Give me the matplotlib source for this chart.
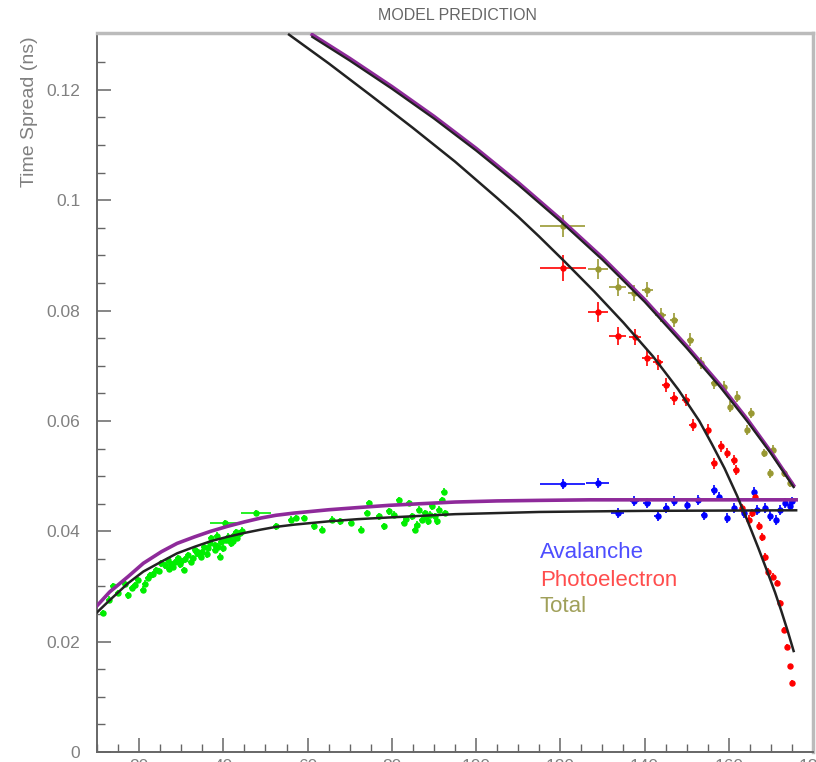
import numpy as np
import matplotlib.pyplot as plt

plt.rcParams['font.family'] = ['Liberation Sans', 'DejaVu Sans']

# ---- model / fit curves ----
photo_fit_x = [55.6, 65, 75, 85, 95, 105, 110, 115, 121, 128, 135, 142, 148, 153, 156, 159, 162, 164.5, 167,
               169, 171, 172.5, 174, 175.4]
photo_fit_y = [0.1300, 0.1248, 0.1190, 0.1131, 0.1070, 0.1004, 0.0970, 0.0934, 0.0889, 0.0835, 0.0778, 0.0717,
               0.0657, 0.0600, 0.0558, 0.0514, 0.0464, 0.0418, 0.0370, 0.0330, 0.0289, 0.0255, 0.0219, 0.0183]

total_x = [61.1, 70, 80, 90, 100, 110, 120, 130, 140, 150, 158, 164.4, 170, 175.4]
total_model_y = [0.1300, 0.1257, 0.1206, 0.1152, 0.1094, 0.1032, 0.0966, 0.0896, 0.0820, 0.0736, 0.0665,
                 0.0603, 0.0544, 0.0483]
total_fit_y = [0.1296, 0.1253, 0.1202, 0.1148, 0.1090, 0.1028, 0.0962, 0.0892, 0.0816, 0.0732, 0.0661,
               0.0599, 0.0541, 0.0480]

aval_x = [10, 13, 17.4, 21, 25.3, 29, 33.2, 37, 41, 45, 48.9, 52.5, 56.8, 65, 72, 79.3, 87, 95, 105, 115,
          127, 140, 176]
aval_fit_y = [0.0253, 0.0275, 0.0306, 0.0327, 0.0345, 0.0360, 0.0372, 0.0382, 0.0390, 0.0397, 0.0403,
              0.0408, 0.0412, 0.0418, 0.0422, 0.0425, 0.0428, 0.0431, 0.0433, 0.0435, 0.0436, 0.0437, 0.0438]
aval_model_y = [0.0265, 0.0290, 0.0318, 0.0342, 0.0363, 0.0378, 0.0390, 0.0400, 0.0409, 0.0417, 0.0424,
                0.0429, 0.0433, 0.0439, 0.0443, 0.0447, 0.0450, 0.0453, 0.0455, 0.0456, 0.0457, 0.0457, 0.0457]

# ---- data points ----
green_x = [11.5, 13.9, 15.0, 18.2, 19.8, 20.9, 22.1, 22.6, 24.1, 25.3, 26.9, 28.0, 29.2, 30.6, 31.6, 32.8,
           33.2, 34.7, 35.5, 37.1, 37.9, 39.1, 39.5, 40.3, 41.0, 41.8, 42.6, 43.3, 47.8, 52.5, 56.0,
           57.2, 59.2, 61.5, 63.5, 65.9, 67.8, 70.2, 72.6, 74.1, 74.5, 76.9, 78.1, 79.3, 80.4, 81.6,
           82.8, 84.0, 84.8, 85.6, 86.4, 87.1, 87.9, 88.7, 89.5, 90.3, 91.1, 91.9, 92.3, 92.7,
           36.3, 38.4, 40.8, 43.9, 44.5, 34.0, 30.0, 27.5, 16.6, 23.3, 83.3, 86.0, 88.2, 90.7, 89.0,
           24.8, 26.2, 27.0, 28.6, 29.8, 31.0, 32.2, 33.8, 35.0, 36.0, 36.8, 38.0, 38.8, 39.8, 40.4,
           41.3, 42.2, 43.0, 21.5, 19.0, 17.3, 12.8]
green_y = [0.0252, 0.0301, 0.0288, 0.0297, 0.0312, 0.0294, 0.0315, 0.0320, 0.0330, 0.0342, 0.0348, 0.0336,
           0.0351, 0.0330, 0.0357, 0.0351, 0.0366, 0.0354, 0.0372, 0.0387, 0.0375, 0.0354, 0.0381, 0.0415,
           0.0390, 0.0378, 0.0393, 0.0388, 0.0433, 0.0409, 0.0421, 0.0424, 0.0424, 0.0409, 0.0403, 0.0421,
           0.0418, 0.0415, 0.0403, 0.0433, 0.0451, 0.0427, 0.0409, 0.0436, 0.0430, 0.0457, 0.0415, 0.0451,
           0.0427, 0.0403, 0.0439, 0.0421, 0.0433, 0.0418, 0.0445, 0.0427, 0.0439, 0.0457, 0.0472, 0.0433,
           0.0369, 0.0392, 0.0384, 0.0396, 0.0401, 0.0362, 0.0346, 0.0340, 0.0305, 0.0322, 0.0422, 0.0412,
           0.0426, 0.0418, 0.0430,
           0.0328, 0.0338, 0.0332, 0.0344, 0.0340, 0.0349, 0.0344, 0.0360, 0.0362, 0.0358, 0.0378, 0.0366,
           0.0372, 0.0369, 0.0384, 0.0387, 0.0383, 0.0398, 0.0305, 0.0302, 0.0284, 0.0276]
green_xerr = [0.7] * 23 + [3.5] + [0.7] * 4 + [3.5] + [0.7] * (len(green_x) - 29)
green_yerr = [0.0006] * len(green_x)

blue_x = [120.6, 128.9, 133.6, 137.6, 140.6, 143.1, 145.1, 147.0, 150.2, 152.6, 154.1, 156.5, 157.7, 159.6,
          161.2, 163.6, 165.9, 166.7, 168.7, 169.9, 171.1, 172.2, 173.4, 174.6, 175.0]
blue_y = [0.0485, 0.0487, 0.0433, 0.0455, 0.0451, 0.0428, 0.0442, 0.0455, 0.0448, 0.0457, 0.0430, 0.0475,
          0.0463, 0.0424, 0.0442, 0.0433, 0.0472, 0.0439, 0.0442, 0.0427, 0.0421, 0.0439, 0.0451, 0.0445, 0.0454]
blue_xerr = [5.3, 2.7, 1.6, 1.0, 1.0, 0.8, 0.8, 0.8, 0.7, 0.7, 0.6, 0.6, 0.6, 0.5, 0.5, 0.5, 0.5, 0.4, 0.4,
             0.4, 0.4, 0.3, 0.3, 0.3, 0.3]
blue_yerr = [0.0009] * len(blue_x)

red_x = [120.6, 128.9, 133.6, 137.7, 140.7, 143.1, 145.1, 147.0, 149.8, 151.4, 155.0, 156.5, 158.1, 159.6,
         161.2, 161.6, 163.2, 164.8, 165.5, 166.3, 167.1, 167.8, 168.6, 169.4, 170.6, 171.4, 172.2, 173.0,
         173.8, 174.6, 175.0]
red_y = [0.0877, 0.0798, 0.0754, 0.0752, 0.0714, 0.0706, 0.0665, 0.0641, 0.0638, 0.0592, 0.0584, 0.0523,
         0.0554, 0.0542, 0.0529, 0.0511, 0.0442, 0.0421, 0.0433, 0.0463, 0.0409, 0.0390, 0.0354, 0.0327,
         0.0318, 0.0306, 0.0270, 0.0221, 0.0191, 0.0155, 0.0125]
red_xerr = [5.5, 2.4, 2.0, 1.5, 1.3, 1.2, 1.0, 1.0, 0.9, 0.9, 0.8, 0.7, 0.7, 0.6, 0.6, 0.6, 0.5, 0.5, 0.5,
            0.5, 0.4, 0.4, 0.4, 0.4, 0.3, 0.3, 0.3, 0.3, 0.3, 0.2, 0.2]
red_yerr = [0.0023, 0.0018, 0.0016, 0.0015, 0.0014, 0.0013, 0.0012, 0.0012, 0.0011, 0.0011, 0.0010, 0.0010,
            0.0010, 0.0009, 0.0009, 0.0009, 0.0008, 0.0008, 0.0008, 0.0008, 0.0007, 0.0007, 0.0007, 0.0007,
            0.0006, 0.0006, 0.0006, 0.0006, 0.0005, 0.0005, 0.0005]

olive_x = [120.6, 128.9, 133.6, 137.5, 140.6, 143.8, 147.0, 150.9, 153.3, 156.5, 158.9, 160.4, 162.0, 164.4,
           165.2, 168.3, 169.9, 170.6, 173.0, 174.6]
olive_y = [0.0953, 0.0875, 0.0843, 0.0832, 0.0838, 0.0792, 0.0783, 0.0747, 0.0705, 0.0668, 0.0662, 0.0626,
           0.0644, 0.0584, 0.0614, 0.0542, 0.0505, 0.0548, 0.0505, 0.0487]
olive_xerr = [5.3, 2.4, 2.0, 1.5, 1.3, 1.2, 1.0, 0.9, 0.9, 0.8, 0.7, 0.7, 0.6, 0.6, 0.6, 0.5, 0.4, 0.4, 0.3, 0.3]
olive_yerr = [0.0020, 0.0018, 0.0016, 0.0015, 0.0014, 0.0013, 0.0012, 0.0012, 0.0011, 0.0011, 0.0010, 0.0010,
              0.0010, 0.0009, 0.0009, 0.0008, 0.0008, 0.0008, 0.0007, 0.0007]

legend_labels = ["Avalanche", "Photoelectron", "Total"]

GREEN = '#00ee00'
BLUE = '#0000ff'
RED = '#ff0000'
OLIVE = '#999933'
PURPLE = '#8e2a9a'

fig = plt.figure(figsize=(8.16, 7.62), dpi=100)
ax = fig.add_axes([97 / 816, 10 / 762, 716 / 816, 719 / 762])

def pts(x, y, xe, ye, c):
    ax.errorbar(x, y, xerr=xe, yerr=ye, fmt='o', ms=3.6, color=c, ecolor=c,
                elinewidth=1.2, capsize=0, zorder=3)

pts(green_x, green_y, green_xerr, green_yerr, GREEN)
pts(blue_x, blue_y, blue_xerr, blue_yerr, BLUE)
pts(red_x, red_y, red_xerr, red_yerr, RED)
pts(olive_x, olive_y, olive_xerr, olive_yerr, OLIVE)

ax.plot(aval_x, aval_model_y, color=PURPLE, lw=2.6, zorder=4)
ax.plot(aval_x, aval_fit_y, color='#222222', lw=1.8, zorder=4)
ax.plot(total_x, total_model_y, color=PURPLE, lw=2.6, zorder=4)
ax.plot(total_x, total_fit_y, color='#222222', lw=1.6, zorder=5)
ax.plot(photo_fit_x, photo_fit_y, color='#222222', lw=1.8, zorder=4)

ax.set_xlim(10, 179.5)
ax.set_ylim(0, 0.1303)

ax.set_xticks(np.arange(20, 181, 20))
ax.set_xticks(np.arange(10, 180, 5), minor=True)
ax.set_yticks(np.arange(0, 0.121, 0.02))
ax.set_yticklabels(['0', '0.02', '0.04', '0.06', '0.08', '0.1', '0.12'])
ax.set_yticks(np.arange(0, 0.13, 0.005), minor=True)

ax.tick_params(which='both', direction='in', colors='#666666', labelcolor='#808080',
               labelsize=12.5, top=False, right=False)
ax.tick_params(which='major', length=10, width=1.1)
ax.tick_params(which='minor', length=5.5, width=1.0)
ax.tick_params(axis='y', which='major', pad=12)
ax.tick_params(axis='x', which='major', pad=5)

for s in ['left', 'bottom']:
    ax.spines[s].set_color('#666666')
    ax.spines[s].set_linewidth(1.4)
for s in ['top', 'right']:
    ax.spines[s].set_color('#bbbbbb')
    ax.spines[s].set_linewidth(2.5)

fig.text(457 / 816, 1 - 16 / 762, "MODEL PREDICTION", ha='center', va='center',
         fontsize=11.5, color='#666666')
fig.text(30 / 816, 1 - 36 / 762, "Time Spread (ns)", rotation=90, ha='center', va='top',
         fontsize=14, color='#808080')

for lab, c, yy in zip(legend_labels, ['#4d4dff', '#ff4d4d', '#a0a05a'], [552, 580, 607]):
    fig.text(540 / 816, 1 - yy / 762, lab, ha='left', va='center', fontsize=16, color=c)

fig.savefig('out.png', dpi=100)
